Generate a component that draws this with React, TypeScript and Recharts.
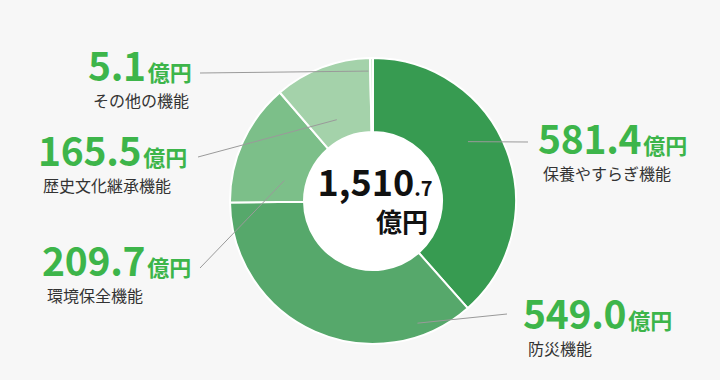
import React from 'react';
import { PieChart, Pie, Cell } from 'recharts';

document.body.style.margin = '0';
document.body.style.background = '#f7f7f7';

const CATEGORIES = ['保養やすらぎ機能', '防災機能', '環境保全機能', '歴史文化継承機能', 'その他の機能'];
const VALUES = [581.4, 549.0, 209.7, 165.5, 5.1];
const COLORS = ['#379b51', '#56a86b', '#7cbf89', '#a4d2aa', '#d6ebd7'];
const UNIT = '億円';

// leader line anchor (polar from pie centre) and label placement
const LABEL_LAYOUT = [
  { angle: 32, r: 112, endX: 528, endY: 142, textX: 538, baseY: 154 },
  { angle: -70, r: 130, endX: 507, endY: 314, textX: 523, baseY: 329 },
  { angle: 167, r: 91, endX: 200, endY: 268, textX: 42, baseY: 276 },
  { angle: 114, r: 89, endX: 198, endY: 157, textX: 38, baseY: 166 },
  { angle: 92, r: 130, endX: 200, endY: 73, textX: 88, baseY: 81 },
];

const data = CATEGORIES.map((name, i) => ({ name, value: VALUES[i] }));
const total = VALUES.reduce((a, b) => a + b, 0);
const totalInt = Math.floor(total).toLocaleString('en-US');
const totalDec = (total - Math.floor(total)).toFixed(1).slice(1);

const FONT = '"Noto Sans CJK JP", "Noto Sans", sans-serif';
const MARGIN = { top: 5, right: 5, bottom: 5, left: 5 };

const renderLabel = (props: any) => {
  const { cx, cy, index } = props;
  const l = LABEL_LAYOUT[index];
  const rad = (l.angle * Math.PI) / 180;
  const ax = cx + l.r * Math.cos(rad);
  const ay = cy - l.r * Math.sin(rad);
  return (
    <g key={`lbl-${index}`}>
      <line x1={ax} y1={ay} x2={l.endX} y2={l.endY} stroke="#9a9a9a" strokeWidth={1} />
      <text x={l.textX} y={l.baseY} fill="#3db54a" fontWeight={700} fontFamily={FONT} fontSize={39} letterSpacing={-0.3}>
        {VALUES[index].toFixed(1)}
        <tspan fontSize={22} dx={2} letterSpacing={0}>{UNIT}</tspan>
      </text>
      <text x={l.textX + 5} y={l.baseY + 26} fill="#333" fontFamily={FONT} fontSize={16}>
        {CATEGORIES[index]}
      </text>
    </g>
  );
};

export default function App() {
  return (
    <div style={{ width: 720, height: 380, background: '#f7f7f7' }}>
      <PieChart width={720} height={380} margin={MARGIN}>
        <Pie
          data={data}
          dataKey="value"
          cx={373 - MARGIN.left}
          cy={201 - MARGIN.top}
          innerRadius={69}
          outerRadius={143}
          startAngle={90}
          endAngle={-270}
          stroke="#ffffff"
          strokeWidth={2}
          label={renderLabel}
          labelLine={false}
          isAnimationActive={false}
        >
          {data.map((entry, index) => (
            <Cell key={`cell-${index}`} fill={COLORS[index]} />
          ))}
        </Pie>
        <circle cx={373} cy={201} r={69} fill="#ffffff" />
        <text x={375} y={196} textAnchor="middle" fill="#111" fontWeight={700} fontFamily={FONT} fontSize={36}>
          {totalInt}
          <tspan fontSize={20}>{totalDec}</tspan>
        </text>
        <text x={428} y={232} textAnchor="end" fill="#111" fontWeight={700} fontFamily={FONT} fontSize={26}>
          {UNIT}
        </text>
      </PieChart>
    </div>
  );
}
